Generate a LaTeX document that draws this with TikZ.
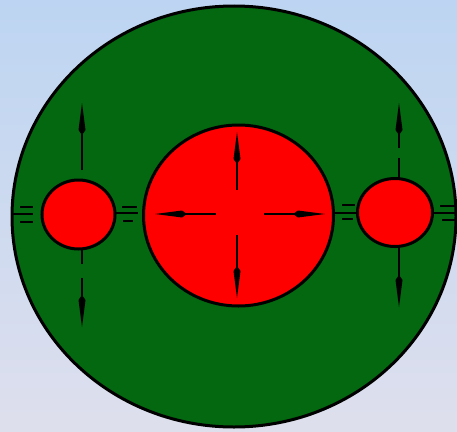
\documentclass[tikz,border=0pt]{standalone}
\usetikzlibrary{arrows.meta}
\definecolor{bgtop}{RGB}{189,213,242}
\definecolor{bgbot}{RGB}{222,223,237}
\definecolor{dgreen}{RGB}{3,104,16}
\definecolor{bred}{RGB}{255,0,0}
\begin{document}
\begin{tikzpicture}[x=1pt,y=-1pt,
  outline/.style={draw=black,line width=3pt},
  spindle/.style={line width=2pt,-{Kite[length=32pt,width=7pt,inset=5pt]}},
  axisline/.style={line width=2pt},
  tick/.style={line width=2.2pt}]
\useasboundingbox (0,0) rectangle (457,431);
\shade[top color=bgtop,bottom color=bgbot] (0,0) rectangle (457,431);
% big green disc
\draw[outline,fill=dgreen] (234,216.5) ellipse [x radius=222,y radius=210.5];
% circles
\draw[outline,fill=bred] (238.5,215.5) ellipse [x radius=95,y radius=90.5];
\draw[outline,fill=bred] (78.5,214.5) ellipse [x radius=36.5,y radius=34.5];
\draw[outline,fill=bred] (395,212.5) ellipse [x radius=37.5,y radius=34];
% centre arrows
\coordinate (ct0) at (237,190); \coordinate (ct1) at (237,132);
\coordinate (cb0) at (237,235); \coordinate (cb1) at (237,298);
\coordinate (cl0) at (216,214); \coordinate (cl1) at (155,214);
\coordinate (cr0) at (264,214); \coordinate (cr1) at (325,214);
\draw[spindle] (ct0) -- (ct1);
\draw[spindle] (cb0) -- (cb1);
\draw[spindle] (cl0) -- (cl1);
\draw[spindle] (cr0) -- (cr1);
% left circle arrows
\coordinate (lt0) at (82,170); \coordinate (lt1) at (82,103);
\coordinate (lb0) at (82,278); \coordinate (lb1) at (82,327);
\coordinate (ls0) at (82,249); \coordinate (ls1) at (82,264);
\draw[spindle] (lt0) -- (lt1);
\draw[spindle] (lb0) -- (lb1);
\draw[axisline] (ls0) -- (ls1);
% right circle arrows
\coordinate (rt0) at (399,148); \coordinate (rt1) at (399,103);
\coordinate (rs0) at (399,158); \coordinate (rs1) at (399,178);
\coordinate (rb0) at (399,247); \coordinate (rb1) at (399,307);
\draw[spindle] (rt0) -- (rt1);
\draw[axisline] (rs0) -- (rs1);
\draw[spindle] (rb0) -- (rb1);
% horizontal ticks
\draw[tick] (20,207) -- (33,207);
\draw[tick] (12,214) -- (33,214);
\draw[tick] (20,222) -- (33,222);
\draw[tick] (122,207) -- (137,207);
\draw[tick] (115,213) -- (138,213);
\draw[tick] (123,221) -- (133,221);
\draw[tick] (342,205) -- (355,205);
\draw[tick] (334,213) -- (357,213);
\draw[tick] (342,219) -- (353,219);
\draw[tick] (440,206) -- (457,206);
\draw[tick] (433,213) -- (457,213);
\draw[tick] (442,220) -- (457,220);
\end{tikzpicture}
\end{document}
